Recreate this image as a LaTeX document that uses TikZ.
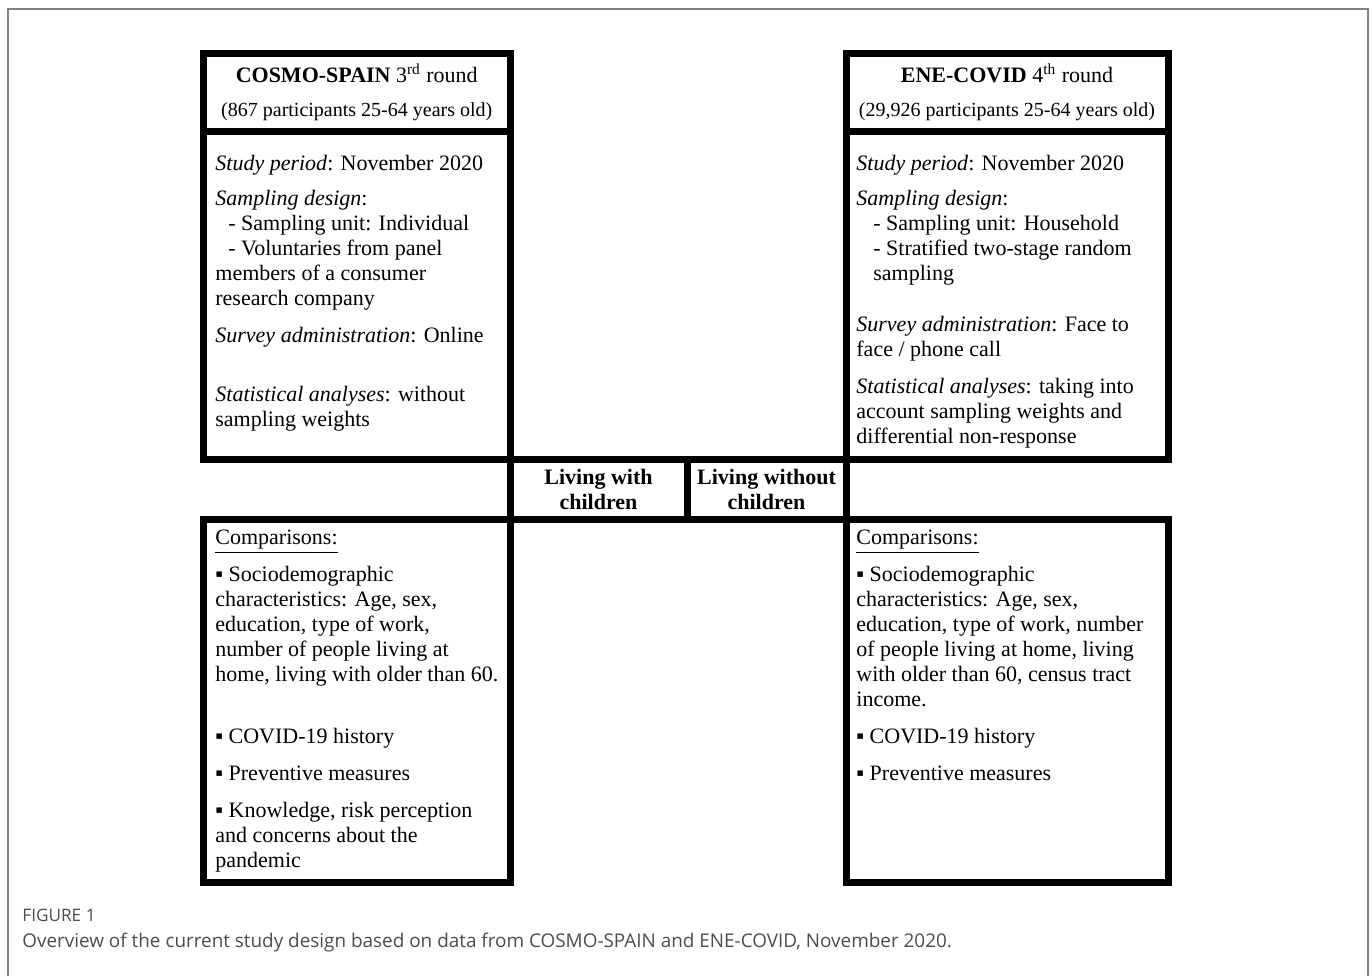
\documentclass[tikz,border=0pt]{standalone}
\usepackage{fontspec}
\setmainfont{Liberation Serif}
\newfontfamily\capfont{Open Sans}
\usetikzlibrary{positioning}
\definecolor{frameGray}{gray}{0.5}
\definecolor{capGray}{gray}{0.3}

\begin{document}
\begin{tikzpicture}[x=0.5pt, y=-0.5pt,
    cell/.style={draw=black, line width=3.5pt, inner sep=0pt, align=center, font=\fontsize{11}{12.5}\selectfont},
    bodytext/.style={inner sep=0pt, align=left, anchor=north west, font=\fontsize{11}{12.5}\selectfont},
    captext/.style={inner sep=0pt, anchor=base west, text=capGray}]
    \useasboundingbox (0,0) rectangle (1372,976);
    \draw[frameGray, line width=0.8pt] (8,976) -- (8,9) -- (1368,9) -- (1368,976);

    % COSMO-SPAIN column
    \node[cell, minimum width=153.25pt, minimum height=39pt] (cosmoHead) at (356.75,92)
        {\textbf{COSMO-SPAIN} 3\textsuperscript{rd} round\\[4.5pt]
         {\fontsize{10}{12}\selectfont (867 participants 25-64 years old)}};
    \node[cell, minimum width=153.25pt, minimum height=164pt] (cosmoBody) at (356.75,295) {};
    \node[cell, minimum width=153.25pt, minimum height=181.5pt] (cosmoComp) at (356.75,700.5) {};

    % ENE-COVID column
    \node[cell, minimum width=161pt, minimum height=39pt] (eneHead) at (1007,92)
        {\textbf{ENE-COVID} 4\textsuperscript{th} round\\[4.5pt]
         {\fontsize{10}{12}\selectfont (29,926 participants 25-64 years old)}};
    \node[cell, minimum width=161pt, minimum height=164pt] (eneBody) at (1007,295) {};
    \node[cell, minimum width=161pt, minimum height=181.5pt] (eneComp) at (1007,700.5) {};

    % middle row
    \node[cell, minimum width=88.5pt, minimum height=30pt, font=\fontsize{11}{12.5}\selectfont\bfseries] (withKids) at (598.5,489) {Living with\\children};
    \node[cell, minimum width=79.5pt, minimum height=30pt, font=\fontsize{11}{12.5}\selectfont\bfseries] (withoutKids) at (766.5,489) {Living without\\children};

    \node[bodytext] (cosmoBodyTxt) at (215,155) {%
        \textit{Study period}: November 2020\\[5pt]
        \textit{Sampling design}:\\
        \hspace*{6.5pt}- Sampling unit: Individual\\
        \hspace*{6.5pt}- Voluntaries from panel\\
        members of a consumer\\
        research company\\[6pt]
        \textit{Survey administration}: Online\\[17pt]
        \textit{Statistical analyses}: without\\
        sampling weights};
    \node[bodytext] (eneBodyTxt) at (856,155) {%
        \textit{Study period}: November 2020\\[5pt]
        \textit{Sampling design}:\\
        \hspace*{8.5pt}- Sampling unit: Household\\
        \hspace*{8.5pt}- Stratified two-stage random\\
        \hspace*{8.5pt}sampling\\[13pt]
        \textit{Survey administration}: Face to\\
        face / phone call\\[6pt]
        \textit{Statistical analyses}: taking into\\
        account sampling weights and\\
        differential non-response};

    \node[bodytext] (cosmoCompTxt) at (215,530) {%
        \underline{Comparisons:}\\[6pt]
        ▪ Sociodemographic\\
        characteristics: Age, sex,\\
        education, type of work,\\
        number of people living at\\
        home, living with older than 60.\\[18.5pt]
        ▪ COVID-19 history\\[6pt]
        ▪ Preventive measures\\[6pt]
        ▪ Knowledge, risk perception\\
        and concerns about the\\
        pandemic};
    \node[bodytext] (eneCompTxt) at (856,530) {%
        \underline{Comparisons:}\\[6pt]
        ▪ Sociodemographic\\
        characteristics: Age, sex,\\
        education, type of work, number\\
        of people living at home, living\\
        with older than 60, census tract\\
        income.\\[6pt]
        ▪ COVID-19 history\\[6pt]
        ▪ Preventive measures};

    % caption
    \node[captext, font=\capfont\fontsize{8.6}{10}\selectfont] (figLabel) at (22,921) {FIGURE 1};
    \node[captext, font=\capfont\fontsize{9.45}{11}\selectfont] (figCaption) at (22,947)
        {Overview of the current study design based on data from COSMO-SPAIN and ENE-COVID, November 2020.};
\end{tikzpicture}
\end{document}
